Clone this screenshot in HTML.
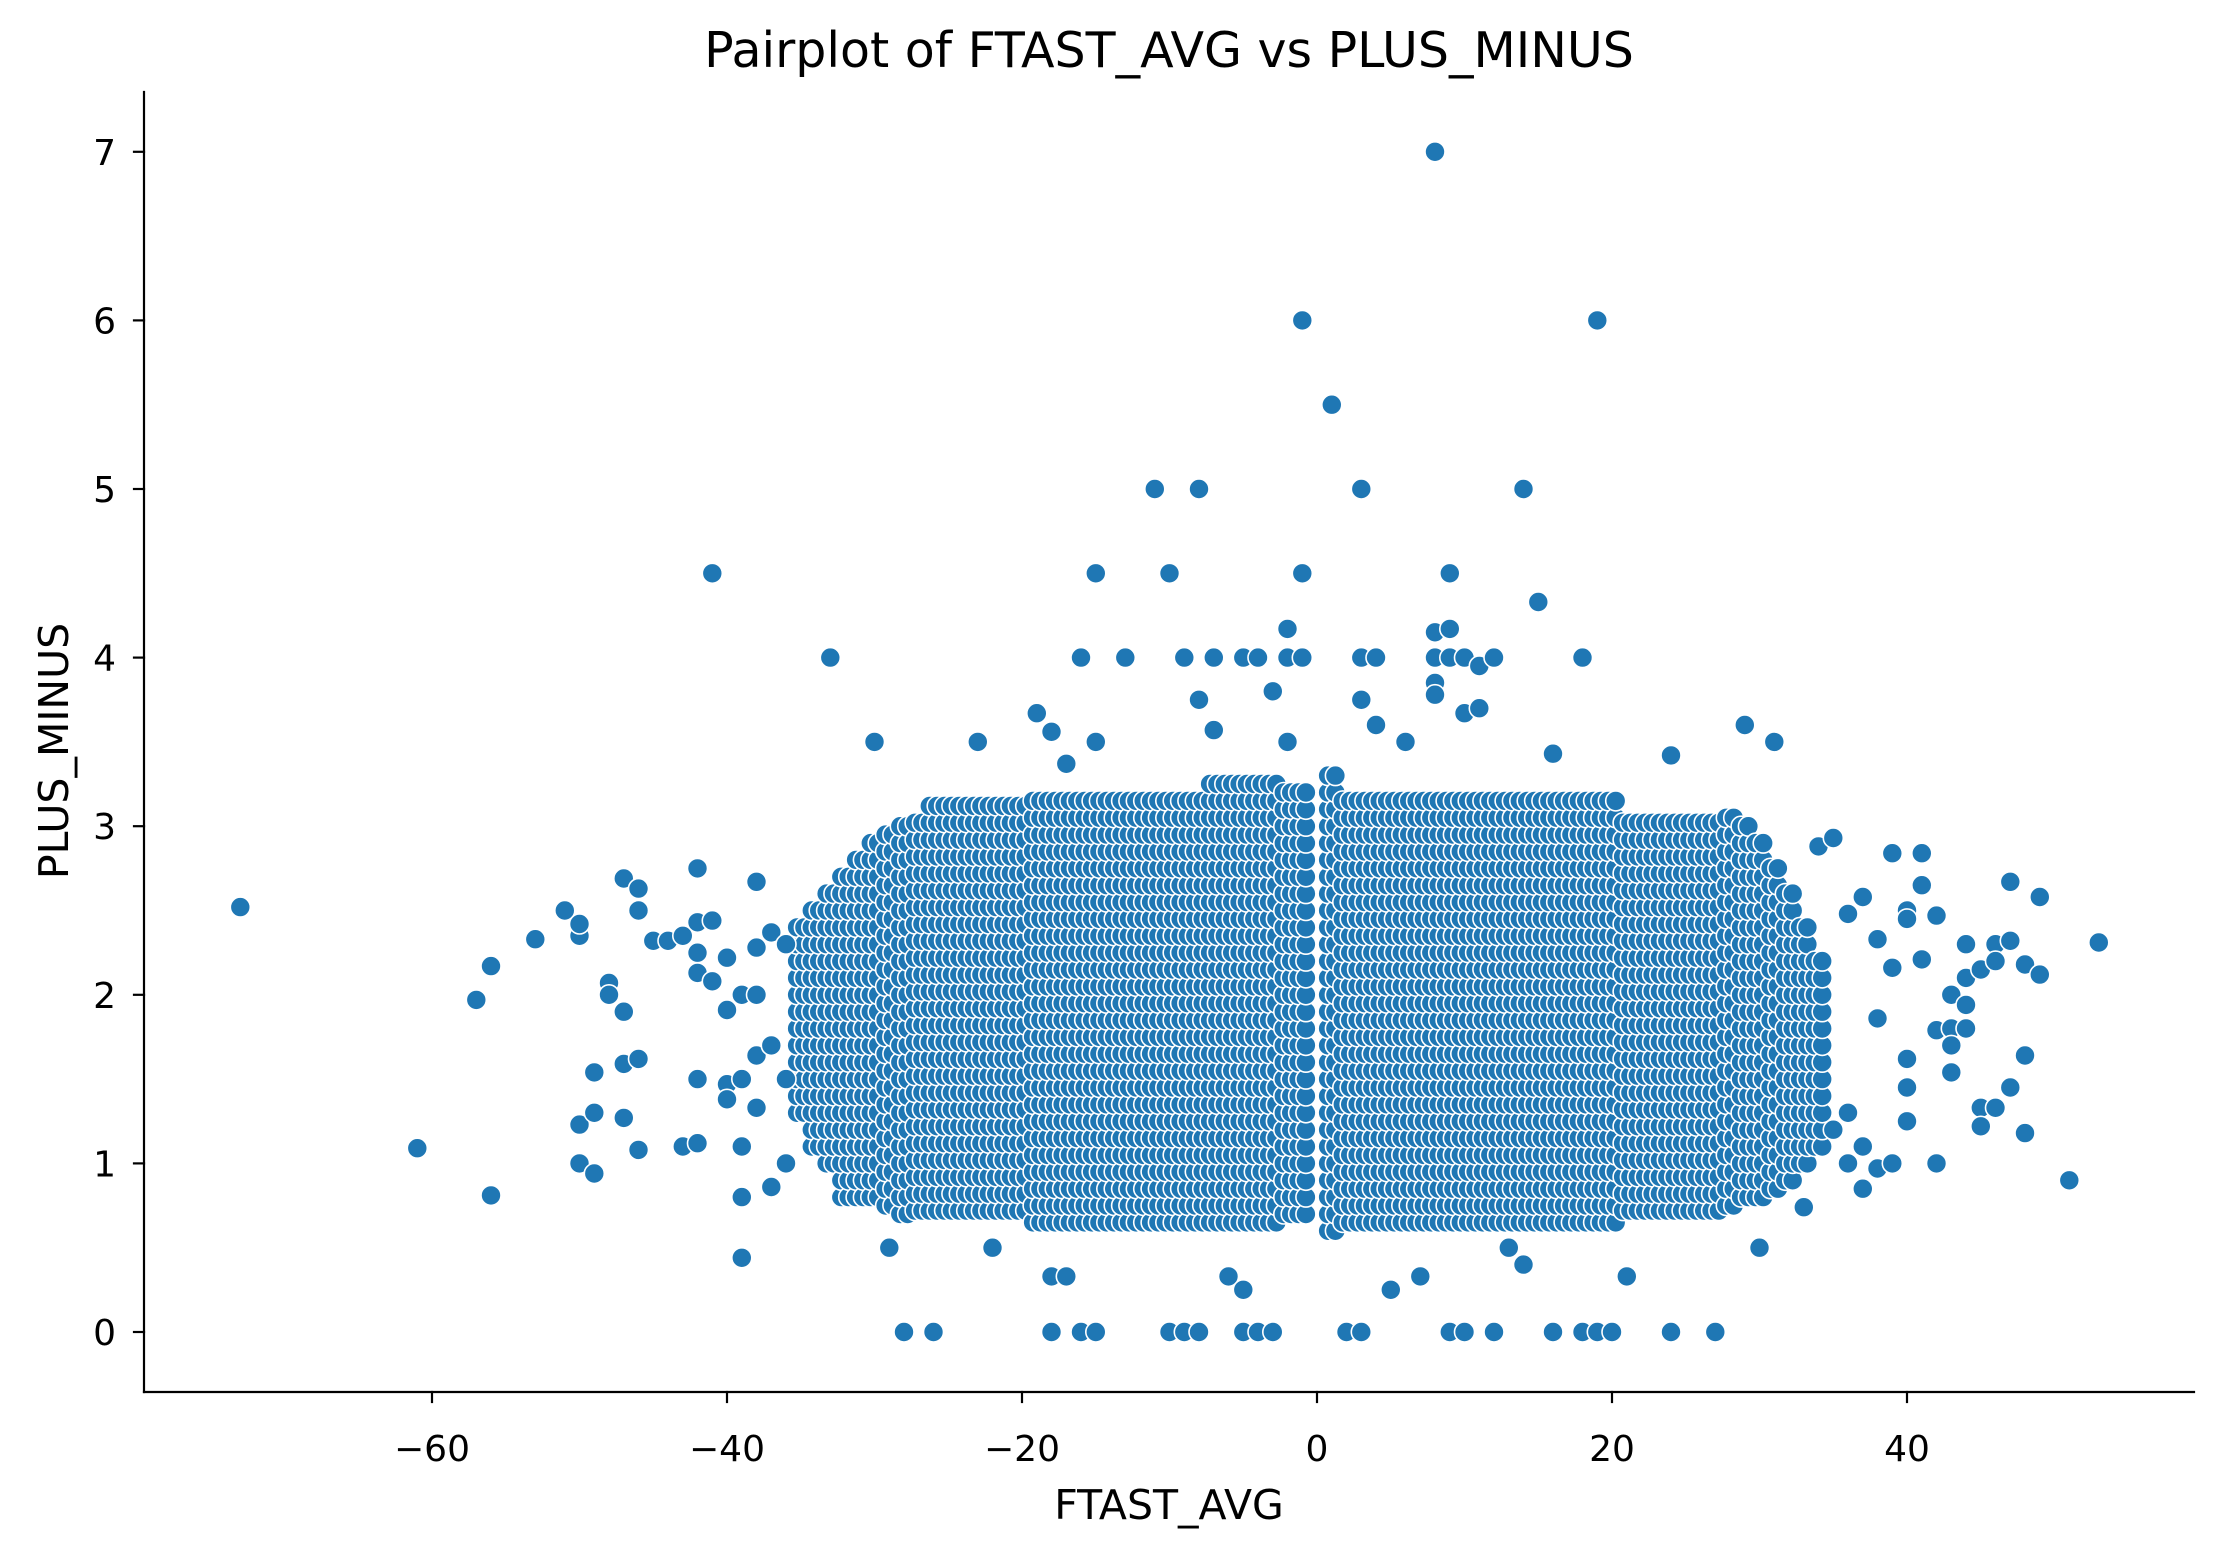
<!DOCTYPE html>
<html><head><meta charset="utf-8"><style>
html,body{margin:0;padding:0;background:#fff;}
svg{display:block;font-family:"DejaVu Sans","Liberation Sans",sans-serif;}
</style></head><body>
<svg id="chart" width="2223" height="1551" viewBox="0 0 2223 1551" xmlns="http://www.w3.org/2000/svg">
<rect width="2223" height="1551" fill="#fff"/>
<text x="1169" y="67" font-size="49" text-anchor="middle">Pairplot of FTAST_AVG vs PLUS_MINUS</text>
<g id="points"></g>
<g id="axes"></g>
<text x="1169" y="1519" font-size="41" text-anchor="middle">FTAST_AVG</text>
<text x="0" y="0" font-size="41" text-anchor="middle" transform="translate(68,751) rotate(-90)">PLUS_MINUS</text>
</svg>
<script>
// Dense cloud envelope, per FTAST_AVG column
const colX = [-35,-34,-33,-32,-31,-30,-29,-28,-27,-26,-25,-24,-23,-22,-21,-20,-19,-18,-17,-16,-15,-14,-13,-12,-11,-10,-9,-8,-7,-6,-5,-4,-3,-2,-1,1,2,3,4,5,6,7,8,9,10,11,12,13,14,15,16,17,18,19,20,21,22,23,24,25,26,27,28,29,30,31,32,33,34];
const colYmin = [1.3,1.1,1.0,0.8,0.8,0.8,0.75,0.7,0.72,0.72,0.72,0.72,0.72,0.72,0.72,0.72,0.65,0.65,0.65,0.65,0.65,0.65,0.65,0.65,0.65,0.65,0.65,0.65,0.65,0.65,0.65,0.65,0.65,0.7,0.7,0.6,0.65,0.65,0.65,0.65,0.65,0.65,0.65,0.65,0.65,0.65,0.65,0.65,0.65,0.65,0.65,0.65,0.65,0.65,0.65,0.72,0.72,0.72,0.72,0.72,0.72,0.72,0.75,0.8,0.8,0.85,0.9,1.0,1.1];
const colYmax = [2.4,2.5,2.6,2.7,2.8,2.9,3.0,3.05,3.1,3.15,3.15,3.15,3.15,3.15,3.15,3.15,3.2,3.2,3.2,3.2,3.2,3.2,3.2,3.2,3.2,3.2,3.2,3.2,3.25,3.25,3.25,3.25,3.25,3.2,3.2,3.3,3.2,3.15,3.15,3.15,3.15,3.15,3.15,3.15,3.15,3.15,3.15,3.15,3.15,3.15,3.15,3.15,3.15,3.15,3.15,3.1,3.1,3.1,3.1,3.1,3.1,3.1,3.05,3.0,2.9,2.8,2.6,2.4,2.2];
// Individual points outside the dense cloud
const outX = [-73,-61,-57,-56,-56,-53,-51,-50,-50,-50,-50,-49,-49,-49,-48,-48,-47,-47,-47,-47,-46,-46,-46,-46,-45,-44,-43,-43,-42,-42,-42,-42,-42,-42,-41,-41,-41,-40,-40,-40,-40,-39,-39,-39,-39,-39,-38,-38,-38,-38,-38,-37,-37,-37,-36,-36,-36,-33,-30,-29,-28,-26,-23,-22,-19,-18,-18,-18,-17,-17,-16,-16,-15,-15,-15,-13,-11,-10,-10,-9,-9,-8,-8,-8,-7,-7,-6,-5,-5,-5,-4,-4,-3,-3,-2,-2,-2,-1,-1,-1,1,2,3,3,3,3,4,4,5,6,7,8,8,8,8,8,9,9,9,9,10,10,10,11,11,12,12,13,14,14,15,16,16,18,18,19,19,20,21,24,24,27,29,30,31,33,34,35,36,37,38,38,39,39,40,40,40,40,40,41,41,41,42,42,42,43,43,43,43,44,44,44,44,45,45,45,46,46,46,47,47,47,48,48,48,49,49,51,53,36,37,38,39,35,36,37];
const outY = [2.52,1.09,1.97,2.17,0.81,2.33,2.5,2.35,2.42,1.23,1.0,0.94,1.54,1.3,2.07,2.0,2.69,1.9,1.59,1.27,2.63,2.5,1.62,1.08,2.32,2.32,2.35,1.1,2.75,2.43,2.25,2.13,1.5,1.12,4.5,2.44,2.08,2.22,1.91,1.47,1.38,2.0,1.5,1.1,0.8,0.44,2.67,2.28,2.0,1.64,1.33,2.37,1.7,0.86,2.3,1.0,1.5,4.0,3.5,0.5,0,0,3.5,0.5,3.67,3.56,0.33,0,3.37,0.33,4.0,0,4.5,3.5,0,4.0,5.0,4.5,0,0,4.0,5.0,3.75,0,4.0,3.57,0.33,4.0,0.25,0,4.0,0,0,3.8,4.17,4.0,3.5,6.0,4.5,4.0,5.5,0,0,5.0,4.0,3.75,4.0,3.6,0.25,3.5,0.33,7.0,4.0,4.15,3.85,3.78,4.5,4.17,4.0,0,0,4.0,3.67,3.95,3.7,4.0,0,0.5,5.0,0.4,4.33,3.43,0,4.0,0,6.0,0,0,0.33,3.42,0,0,3.6,0.5,3.5,0.74,2.88,2.93,2.48,2.58,2.33,1.86,2.84,2.16,2.5,2.45,1.62,1.45,1.25,2.84,2.65,2.21,2.47,1.79,1.0,2.0,1.8,1.7,1.54,2.3,2.1,1.94,1.8,2.15,1.33,1.22,2.3,2.2,1.33,2.67,2.32,1.45,2.18,1.64,1.18,2.58,2.12,0.9,2.31,1.3,1.1,0.97,1.0,1.2,1.0,0.85];
const xTicks = [-60,-40,-20,0,20,40];
const yTicks = [0,1,2,3,4,5,6,7];

const NS = "http://www.w3.org/2000/svg";
const X0 = 1317, XS = 14.75, Y0 = 1332, YS = 168.6;
function sx(v){ return X0 + v*XS; }
function sy(v){ return Y0 - v*YS; }
const pts = document.getElementById('points');
function dot(x, y){
  const c = document.createElementNS(NS, 'circle');
  c.setAttribute('cx', sx(x).toFixed(1));
  c.setAttribute('cy', sy(y).toFixed(1));
  c.setAttribute('r', 10);
  c.setAttribute('fill', '#1f77b4');
  c.setAttribute('stroke', '#fff');
  c.setAttribute('stroke-width', 1.6);
  
  
  pts.appendChild(c);
}
for (let i = 0; i < colX.length; i++) {
  for (const off of [0, 0.5]) {
    for (let y = colYmin[i]; y <= colYmax[i] + 1e-9; y += 0.1) {
      dot(colX[i] + off - 0.25, y);
    }
  }
}
for (let i = 0; i < outX.length; i++) dot(outX[i], outY[i]);

const ax = document.getElementById('axes');
function line(x1,y1,x2,y2,name){
  const l = document.createElementNS(NS,'line');
  l.setAttribute('x1',x1); l.setAttribute('y1',y1); l.setAttribute('x2',x2); l.setAttribute('y2',y2);
  l.setAttribute('stroke','#000'); l.setAttribute('stroke-width',2.2); l.setAttribute('stroke-linecap','square');
  
  
  ax.appendChild(l);
}
function label(x,y,t,anchor,name){
  const e = document.createElementNS(NS,'text');
  e.setAttribute('x',x); e.setAttribute('y',y); e.setAttribute('font-size',36); e.setAttribute('text-anchor',anchor);
  e.textContent = t;
  
  
  ax.appendChild(e);
}
line(144,92,144,1392,'y-axis-line');
line(144,1392,2194,1392,'x-axis-line');
xTicks.forEach(v => {
  line(sx(v),1392,sx(v),1402,'x-tick');
  label(sx(v),1461,v<0?'\u2212'+(-v):String(v),'middle','x-tick-label');
});
yTicks.forEach(v => {
  line(134,sy(v),144,sy(v),'y-tick');
  label(116,sy(v)+13,String(v),'end','y-tick-label');
});
</script>
</body></html>
